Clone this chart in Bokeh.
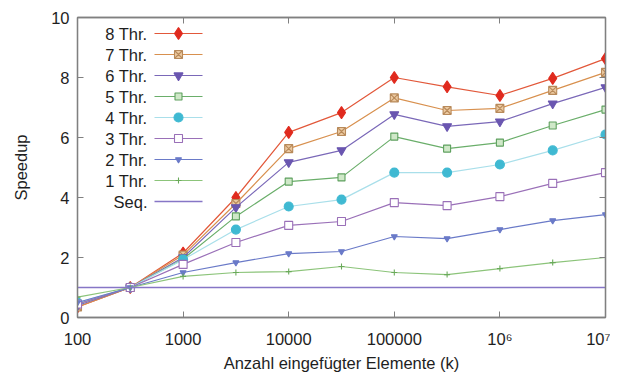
import math
from bokeh.plotting import figure
from bokeh.models import (FixedTicker, LogAxis, LinearAxis, Range1d,
                          CustomJSTickFormatter, Label)
from bokeh.embed import file_html
from bokeh.resources import INLINE

# ---- data ----
elements = [100, 316, 1000, 3162, 10000, 31623, 100000, 316228, 1000000, 3162278, 10000000]
thr8 = [0.35, 1.0, 2.15, 4.0, 6.17, 6.83, 8.0, 7.69, 7.4, 7.97, 8.63]
thr7 = [0.35, 1.0, 2.08, 3.8, 5.63, 6.2, 7.32, 6.9, 6.97, 7.57, 8.17]
thr6 = [0.4, 1.0, 2.0, 3.67, 5.17, 5.57, 6.77, 6.37, 6.53, 7.13, 7.67]
thr5 = [0.45, 1.0, 1.95, 3.37, 4.53, 4.67, 6.03, 5.63, 5.83, 6.4, 6.93]
thr4 = [0.5, 1.0, 1.93, 2.93, 3.7, 3.93, 4.83, 4.83, 5.1, 5.57, 6.1]
thr3 = [0.45, 1.0, 1.77, 2.5, 3.07, 3.2, 3.83, 3.73, 4.03, 4.47, 4.83]
thr2 = [0.5, 1.0, 1.5, 1.83, 2.13, 2.2, 2.7, 2.63, 2.93, 3.23, 3.43]
thr1 = [0.68, 1.0, 1.37, 1.5, 1.53, 1.7, 1.5, 1.43, 1.63, 1.83, 2.0]
seq = [1.0] * len(elements)

x_ticks = [100, 1000, 10000, 100000, 1000000, 10000000]
x_tick_labels = ["100", "1000", "10000", "100000", "10\u2076", "10\u2077"]
y_ticks = [0, 2, 4, 6, 8, 10]
series_labels = ["8 Thr.", "7 Thr.", "6 Thr.", "5 Thr.", "4 Thr.", "3 Thr.", "2 Thr.", "1 Thr.", "Seq."]

FONT = "Liberation Sans"
FS = "16.5px"
GRAY = "#808080"
TXT = "#1e1e1e"
X_MIN, X_MAX, Y_MIN, Y_MAX = 100, 1e7, 0, 10
FRAME_W, FRAME_H = 528, 300

p = figure(frame_width=FRAME_W, frame_height=FRAME_H, x_axis_type="log",
           x_range=Range1d(X_MIN, X_MAX), y_range=Range1d(Y_MIN, Y_MAX),
           output_backend="svg", toolbar_location=None,
           min_border_left=77, min_border_right=5, min_border_top=17,
           min_border_bottom=0)
p.xgrid.visible = False
p.ygrid.visible = False
p.outline_line_color = GRAY
p.outline_line_width = 1.3
p.background_fill_color = "white"

for ax in (p.xaxis[0], p.yaxis[0]):
    ax.axis_line_color = GRAY
    ax.axis_line_width = 1.3
    ax.major_tick_line_color = GRAY
    ax.major_tick_in = 6
    ax.major_tick_out = 0
    ax.minor_tick_line_color = None
    ax.major_label_text_font = FONT
    ax.major_label_text_font_size = FS
    ax.major_label_text_color = TXT
    ax.axis_label_text_font = FONT
    ax.axis_label_text_font_size = FS
    ax.axis_label_text_font_style = "normal"
    ax.axis_label_text_color = TXT

p.xaxis.ticker = FixedTicker(ticks=x_ticks)
p.xaxis.major_label_overrides = {t: l for t, l in zip(x_ticks, x_tick_labels)}
p.xaxis.major_label_standoff = 12
p.xaxis.axis_label = "Anzahl eingefügter Elemente (k)"
p.xaxis.axis_label_standoff = 3

p.yaxis.ticker = FixedTicker(ticks=y_ticks)
p.yaxis.major_label_standoff = 8
p.yaxis.axis_label = "Speedup"
p.yaxis.axis_label_standoff = 18

blank = CustomJSTickFormatter(code="return ''")
top = LogAxis(ticker=FixedTicker(ticks=x_ticks), formatter=blank,
              major_label_standoff=0, major_tick_in=6, major_tick_out=0,
              major_tick_line_color=GRAY, minor_tick_line_color=None,
              axis_line_color=GRAY, axis_line_width=1.3)
p.add_layout(top, "above")
right = LinearAxis(ticker=FixedTicker(ticks=y_ticks), formatter=blank,
                   major_label_standoff=0, major_tick_in=6, major_tick_out=0,
                   major_tick_line_color=GRAY, minor_tick_line_color=None,
                   axis_line_color=GRAY, axis_line_width=1.3)
p.add_layout(right, "right")

styles = [
    # (line color, marker, marker fill, marker line, size)
    ("#e2583a", "diamond", "#e02a1e", "#e02a1e", 12),
    ("#d8904e", "square_x", "#ecc9a0", "#b88a5a", 8),
    ("#7a68b8", "inverted_triangle", "#6a56b0", "#6a56b0", 9),
    ("#6aae6a", "square", "#cfe8c8", "#5ea05e", 7),
    ("#a9dfea", "circle", "#3fb9d2", "#3fb9d2", 9),
    ("#9a70b8", "square", "white", "#9a70b8", 8),
    ("#6a7ac8", "inverted_triangle", "#6a7ac8", "#6a7ac8", 6),
    ("#8cc47a", "cross", "#6aaa5a", "#6aaa5a", 6),
]
series = [thr8, thr7, thr6, thr5, thr4, thr3, thr2, thr1]

for vals, (lc, mk, mf, ml, sz) in zip(series, styles):
    p.line(elements, vals, line_color=lc, line_width=1.2)
    p.scatter(elements, vals, marker=mk, size=sz, fill_color=mf,
              line_color=ml, line_width=1.1)
SEQ_COLOR = "#8676c6"
p.line(elements, seq, line_color=SEQ_COLOR, line_width=1.5)

# ---- legend (gnuplot style: text left, sample right), placed by pixel layout ----
def x_at(px):
    return 10 ** (math.log10(X_MIN) + px / FRAME_W * (math.log10(X_MAX) - math.log10(X_MIN)))
def y_at(py_from_top):
    return Y_MAX - py_from_top / FRAME_H * (Y_MAX - Y_MIN)

LEG_TEXT_RIGHT, LEG_S0, LEG_S1, LEG_MK = 70, 77, 125, 101
LEG_TOP, LEG_STEP = 16, 21.0
for i, lab in enumerate(series_labels):
    yy = y_at(LEG_TOP + LEG_STEP * i)
    p.add_layout(Label(x=x_at(LEG_TEXT_RIGHT), y=yy, text=lab, anchor="center_right",
                       text_align="right", text_baseline="middle",
                       text_font=FONT, text_font_size=FS, text_color=TXT))
    if i < len(styles):
        lc, mk, mf, ml, sz = styles[i]
        p.line([x_at(LEG_S0), x_at(LEG_S1)], [yy, yy], line_color=lc, line_width=1.2)
        p.scatter([x_at(LEG_MK)], [yy], marker=mk, size=sz, fill_color=mf,
                  line_color=ml, line_width=1.1)
    else:
        p.line([x_at(LEG_S0), x_at(LEG_S1)], [yy, yy], line_color=SEQ_COLOR, line_width=1.5)

open("out.html", "w").write(file_html(p, INLINE))
